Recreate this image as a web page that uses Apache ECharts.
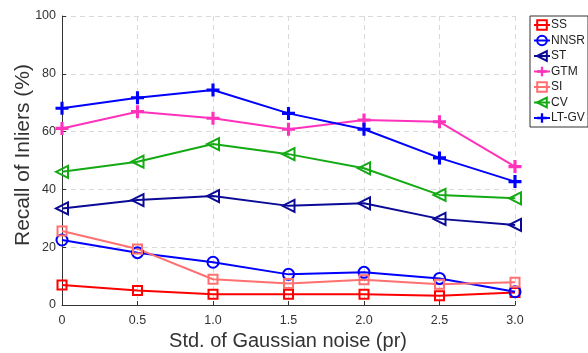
<!DOCTYPE html>
<html><head><meta charset="utf-8">
<script src="https://cdn.jsdelivr.net/npm/echarts@6/dist/echarts.min.js"></script>
<style>html,body{margin:0;padding:0;background:#fff}#c{width:588px;height:353px}</style>
</head><body><div id="c"></div>
<script>
const categories = ['0','0.5','1.0','1.5','2.0','2.5','3.0'];
const seriesNames = ['SS','NNSR','ST','GTM','SI','CV','LT-GV'];
const ss   = [6.9, 5.0, 3.7, 3.7, 3.7, 3.2, 4.3];
const nnsr = [22.5, 18.1, 14.8, 10.6, 11.3, 9.2, 4.6];
const st   = [33.4, 36.3, 37.7, 34.3, 35.2, 29.8, 27.7];
const gtm  = [61.1, 66.9, 64.6, 60.8, 64.0, 63.4, 47.9];
const si   = [25.6, 19.4, 8.9, 7.4, 8.7, 7.2, 7.9];
const cv   = [46.1, 49.6, 55.7, 52.2, 47.3, 38.1, 36.9];
const ltgv = [68.1, 71.7, 74.4, 66.3, 60.8, 50.9, 42.7];
const yTicks = [0, 20, 40, 60, 80, 100];
const xTitle = 'Std. of Gaussian noise (pr)';
const yTitle = 'Recall of Inliers (%)';

const plusPath = 'path://M3.8,0h2.4v3.8h3.8v2.4h-3.8v3.8h-2.4v-3.8h-3.8v-2.4h3.8z';
const font = 'Liberation Sans, Arial, sans-serif';

function mk(name, data, color, symbol, size, hollow, rotate) {
  return {
    name, type: 'line', data, symbol, symbolSize: size, symbolRotate: rotate || 0,
    showAllSymbol: true,
    lineStyle: { color, width: 2 },
    itemStyle: hollow ? { color: 'rgba(255,255,255,0)', borderColor: color, borderWidth: 2 } : { color, borderWidth: 0 },
    emphasis: { disabled: true },
    z: 2
  };
}

const chart = echarts.init(document.getElementById('c'), null, { renderer: 'canvas' });
chart.setOption({
  animation: false,
  grid: { left: 62, right: 73, top: 16, bottom: 48 },
  legend: {
    orient: 'vertical', left: 530, top: 16,
    padding: [3, 3, 3, 3], itemGap: 3.5, itemWidth: 16, itemHeight: 12,
    borderColor: '#333', borderWidth: 1, backgroundColor: '#fff',
    textStyle: { fontFamily: font, fontSize: 12, color: '#222', padding: [0, 0, 0, -4] },
    data: seriesNames
  },
  graphic: [
    { type: 'text', x: 288, y: 341, style: { text: xTitle, fontFamily: font, fontSize: 20, fill: '#333', align: 'center', verticalAlign: 'middle' } },
    { type: 'text', x: 23, y: 155, rotation: Math.PI / 2, style: { text: yTitle, fontFamily: font, fontSize: 21, fill: '#333', align: 'center', verticalAlign: 'middle' } }
  ],
  xAxis: {
    type: 'category', data: categories, boundaryGap: false,
    axisLine: { lineStyle: { color: '#333', width: 1 } },
    axisTick: { inside: true, length: 4, alignWithLabel: true, lineStyle: { color: '#333' } },
    axisLabel: { fontFamily: font, fontSize: 12.5, color: '#333', margin: 9 },
    splitLine: { show: true, lineStyle: { color: '#d9d9d9', type: [5, 4], width: 1 } }
  },
  yAxis: {
    type: 'value', min: yTicks[0], max: yTicks[yTicks.length - 1], interval: 20,
    axisLine: { show: true, lineStyle: { color: '#333', width: 1 } },
    axisTick: { show: true, inside: true, length: 4, lineStyle: { color: '#333' } },
    axisLabel: { fontFamily: font, fontSize: 12.5, color: '#333', margin: 6 },
    splitLine: { show: true, lineStyle: { color: '#d9d9d9', type: [5, 4], width: 1 } }
  },
  series: [
    mk('SS', ss, '#ff0000', 'rect', 9, true),
    mk('NNSR', nnsr, '#0000ff', 'circle', 11, true),
    mk('ST', st, '#0a0a96', 'triangle', 12, true, 90),
    mk('GTM', gtm, '#ff33bb', plusPath, 13, false),
    mk('SI', si, '#ff7070', 'rect', 9, true),
    mk('CV', cv, '#14aa14', 'triangle', 12, true, 90),
    mk('LT-GV', ltgv, '#0000ff', plusPath, 13, false)
  ]
});
</script></body></html>
